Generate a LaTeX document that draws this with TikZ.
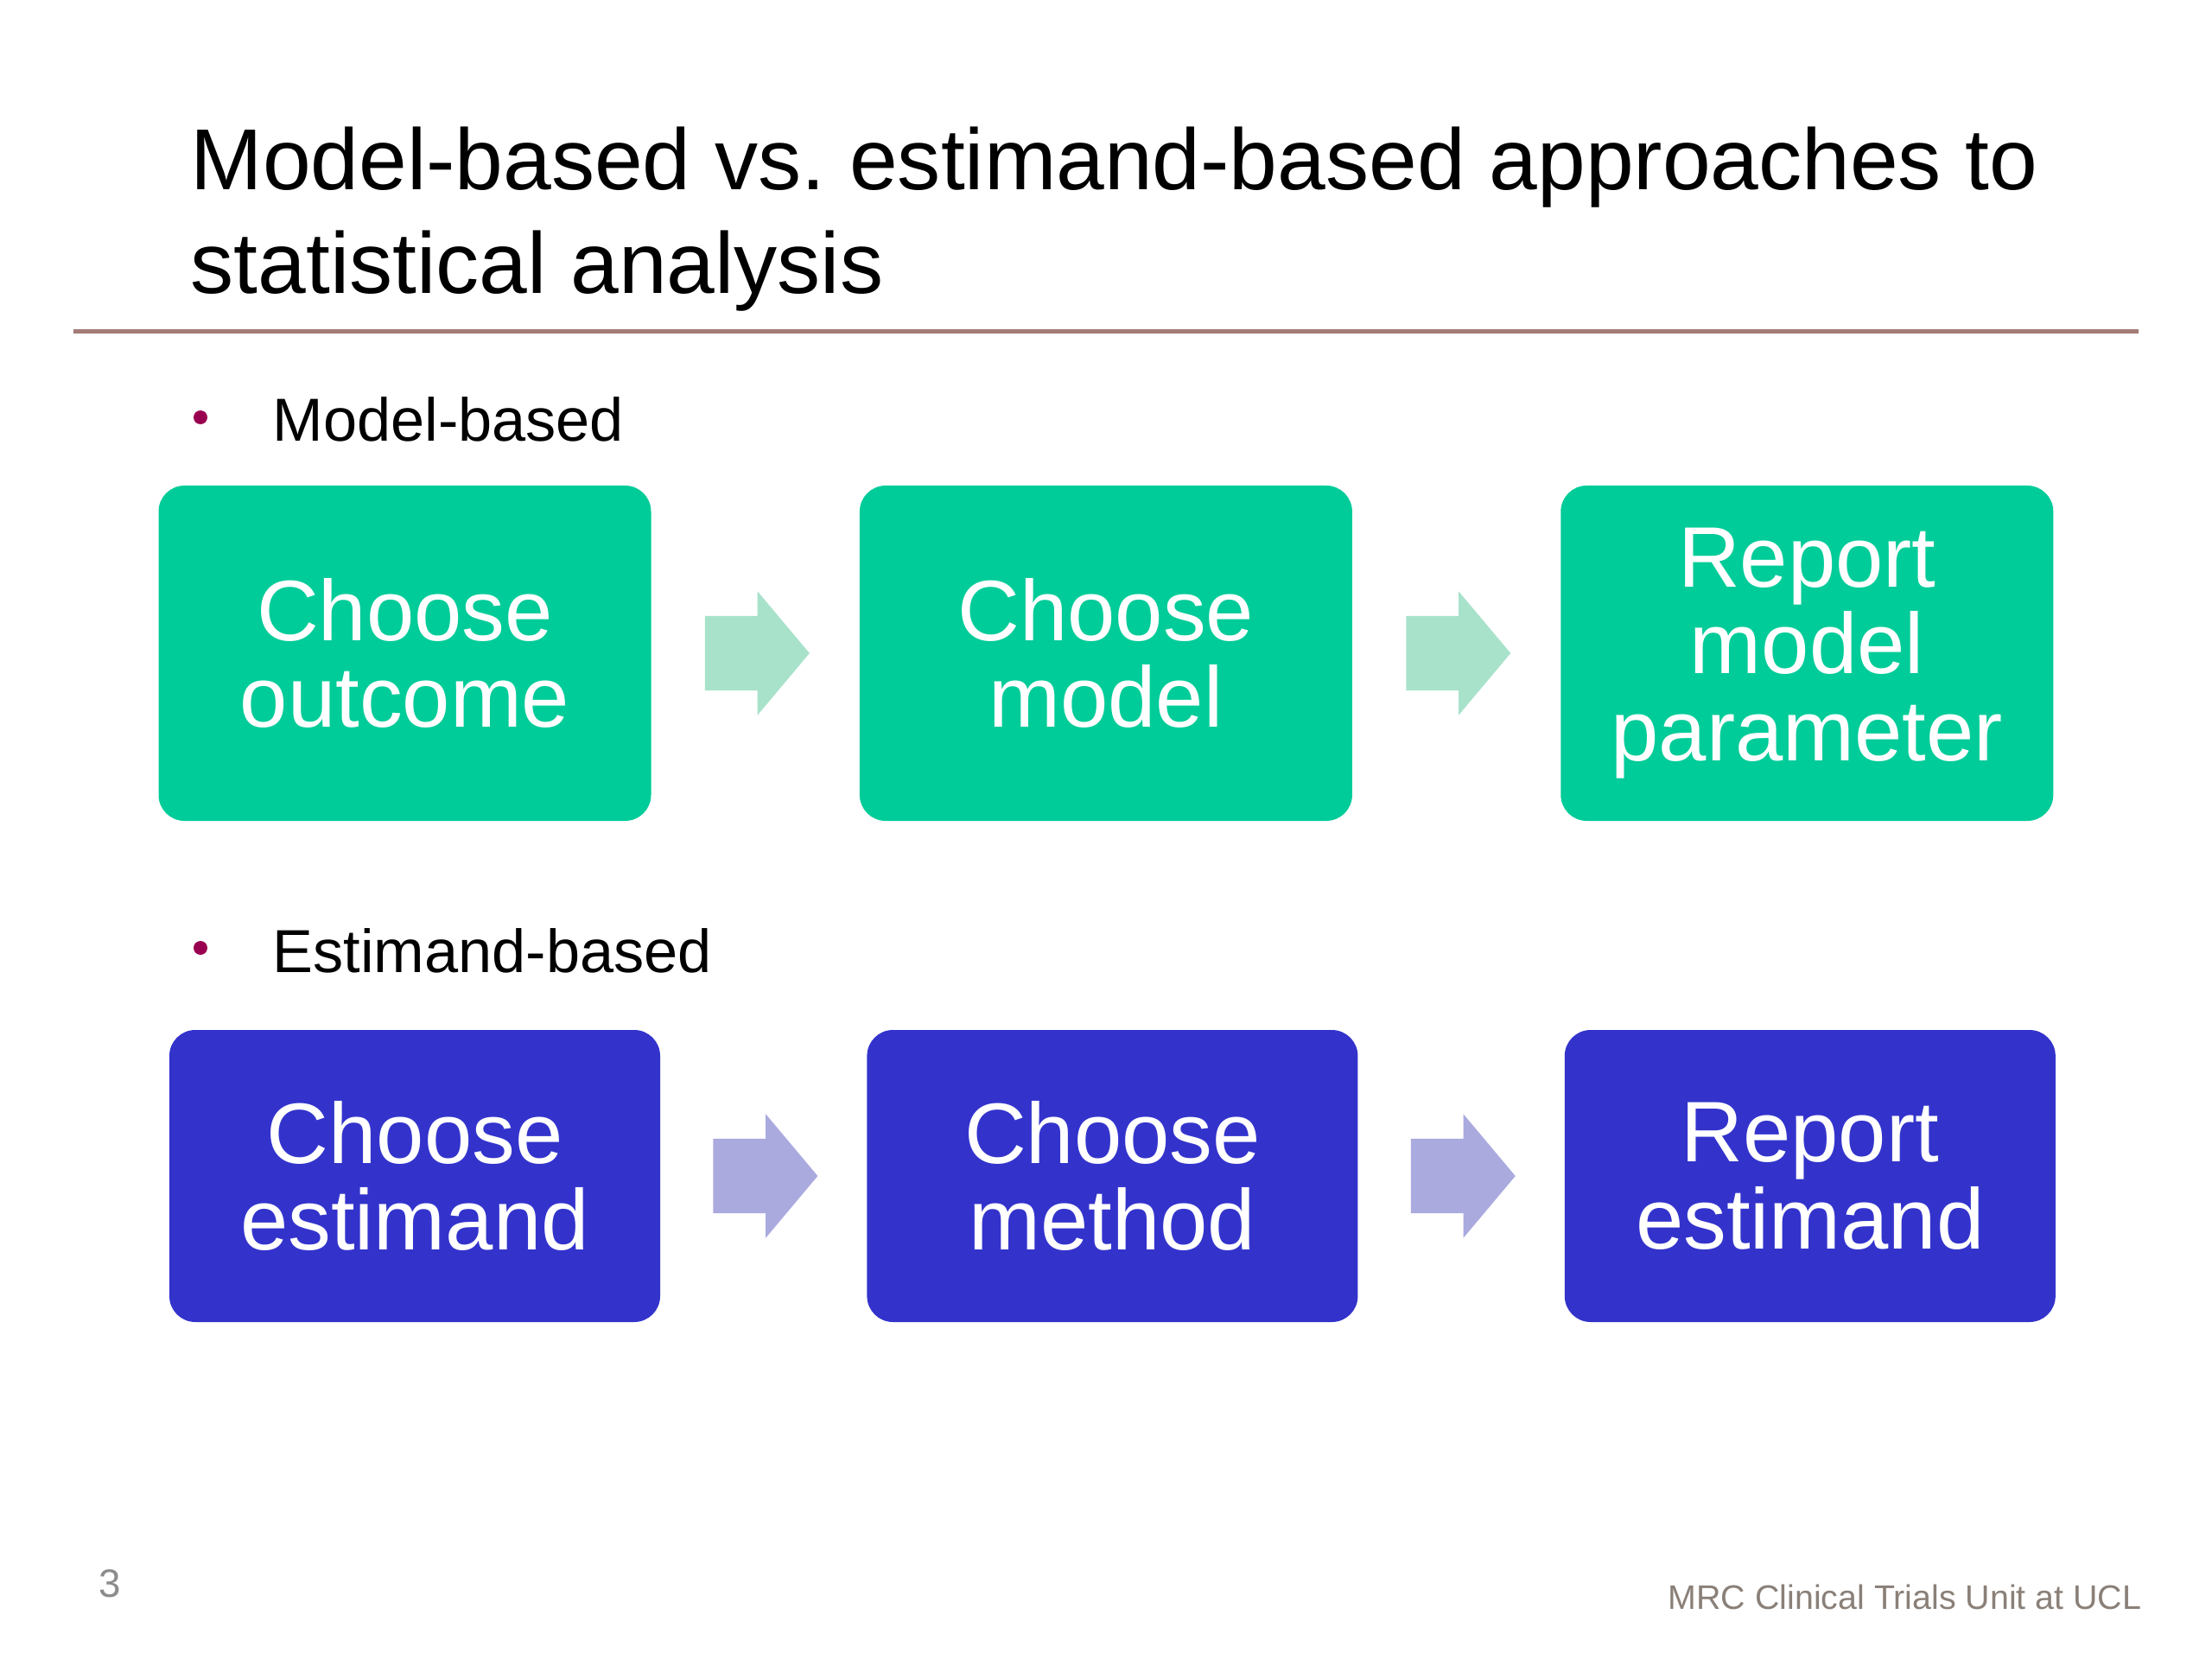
\documentclass[tikz,border=0pt]{standalone}
\usepackage{fontspec}
\setmainfont{Liberation Sans}
\usepackage{xcolor}
\definecolor{rulec}{HTML}{A37B76}
\definecolor{dotc}{HTML}{990050}
\definecolor{grnc}{HTML}{00CC99}
\definecolor{grnarc}{HTML}{A8E2CB}
\definecolor{bluc}{HTML}{3333CC}
\definecolor{bluarc}{HTML}{AAAADF}
\definecolor{footc}{HTML}{8A8078}
\definecolor{numc}{HTML}{8C8C8C}
\usetikzlibrary{positioning,calc,shapes.arrows}
\frenchspacing
\tikzset{
  ttl/.style={font=\fontsize{28.5}{34}\selectfont,anchor=base west,inner sep=0pt},
  bul/.style={font=\fontsize{20}{24}\selectfont,anchor=base west,inner sep=0pt},
  dot/.style={circle,fill=dotc,inner sep=0pt,minimum size=1.6mm},
  box/.style={rectangle,rounded corners=3mm,inner sep=0pt,align=center,
              text=white,font=\fontsize{28.3}{28.7}\selectfont},
  mbox/.style={box,fill=grnc,minimum width=5.7cm,minimum height=3.88cm},
  ebox/.style={box,fill=bluc,minimum width=5.68cm,minimum height=3.38cm},
  arr/.style={single arrow,draw=none,minimum height=1.21cm,minimum width=1.42cm,inner xsep=0pt,
              inner ysep=0.425cm,single arrow head extend=0.285cm,single arrow tip angle=100,
              xshift=-1.6mm},
  marr/.style={arr,fill=grnarc},
  earr/.style={arr,fill=bluarc},
  foot/.style={font=\fontsize{11.2}{13}\selectfont,inner sep=0pt},
}

\begin{document}
\begin{tikzpicture}
  \fill[white] (0,0) rectangle (25.6,-19.2);
  \useasboundingbox (0,0) rectangle (25.6,-19.2);
  % title
  \node[ttl] (t1) at (2.2,-2.2) {Model-based vs. estimand-based approaches to};
  \node[ttl] (t2) at (2.2,-3.4) {statistical analysis};
  \draw[rulec,line width=0.05cm] (0.85,-3.84) -- (24.75,-3.84);
  % model-based
  \node[dot] (d1) at (2.32,-4.83) {};
  \node[bul] (mb) at (3.15,-5.11) {Model-based};
  \node[mbox] (co) at (4.685,-7.56) {Choose\\outcome};
  \node[mbox,right=2.4cm of co] (cm) {Choose\\model};
  \node[mbox,right=2.4cm of cm] (rp) {Report\\model\\parameter};
  \node[marr] (ma1) at ($(co.east)!0.5!(cm.west)$) {};
  \node[marr] (ma2) at ($(cm.east)!0.5!(rp.west)$) {};
  % estimand-based
  \node[dot] (d2) at (2.32,-10.97) {};
  \node[bul] (eb) at (3.15,-11.25) {Estimand-based};
  \node[ebox] (ce) at (4.80,-13.61) {Choose\\estimand};
  \node[ebox,right=2.38cm of ce] (ch) {Choose\\method};
  \node[ebox,right=2.38cm of ch] (re) {Report\\estimand};
  \node[earr] (ea1) at ($(ce.east)!0.5!(ch.west)$) {};
  \node[earr] (ea2) at ($(ch.east)!0.5!(re.west)$) {};
  % footer
  \node[foot,text=numc,anchor=base west,font=\fontsize{13}{15}\selectfont] (pg) at (1.14,-18.48) {3};
  \node[foot,text=footc,anchor=base east] (unit) at (24.79,-18.62) {MRC Clinical Trials Unit at UCL};
\end{tikzpicture}
\end{document}
